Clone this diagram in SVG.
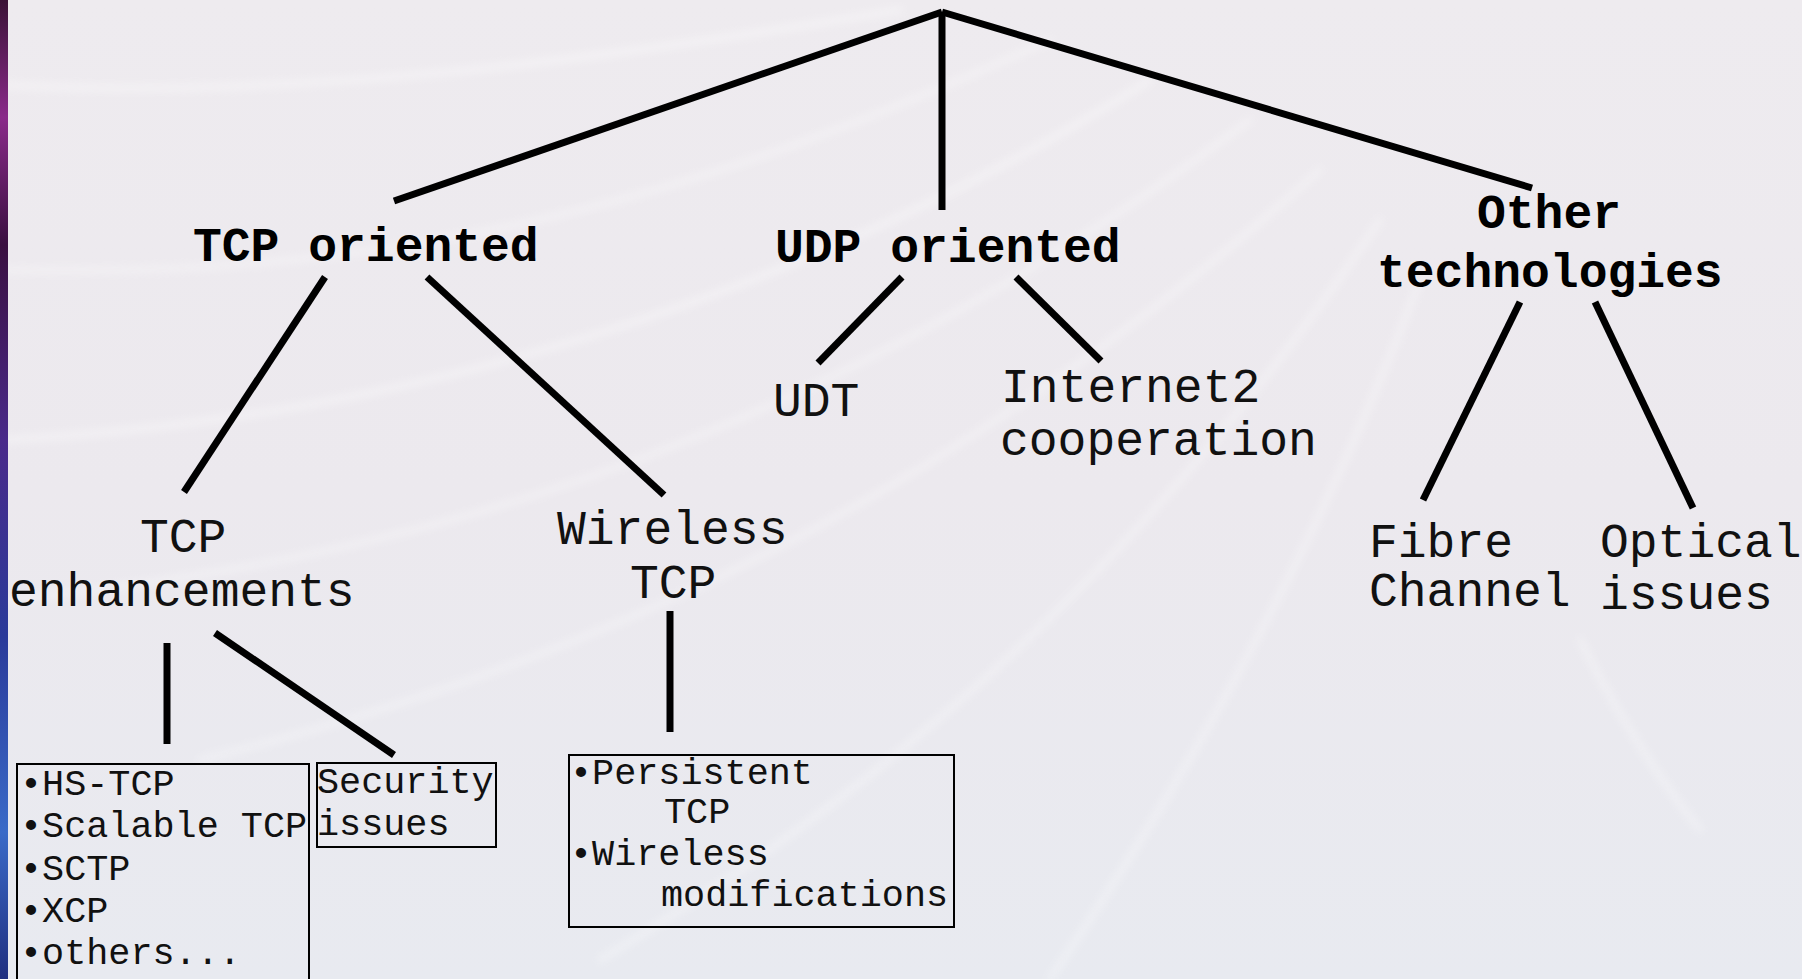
<svg xmlns="http://www.w3.org/2000/svg" width="1802" height="979" viewBox="0 0 1802 979">
<style>
.bg{fill:url(#bgGrad)}
.edge{fill:url(#edgeGrad)}
.streak{fill:none;stroke:#ffffff;stroke-linecap:round;opacity:0.4;filter:url(#soft)}
.conn line{stroke:#000;stroke-width:7;stroke-linecap:butt}
.box{fill:none;stroke:#000;stroke-width:2}
.lbl{font-family:"Liberation Mono","Courier New",monospace;font-size:48px;fill:#111}
.bold{font-family:"Liberation Mono","Courier New",monospace;font-size:48px;font-weight:bold;fill:#000}
.small{font-family:"Liberation Mono","Courier New",monospace;font-size:36.8px;fill:#111}
</style>
<defs>
<linearGradient id="bgGrad" x1="0" y1="0" x2="0" y2="1">
<stop offset="0" stop-color="#eeebef"/>
<stop offset="0.5" stop-color="#ece9ee"/>
<stop offset="1" stop-color="#e8eaf0"/>
</linearGradient>
<linearGradient id="edgeGrad" x1="0" y1="0" x2="0" y2="1">
<stop offset="0" stop-color="#3a1236"/>
<stop offset="0.12" stop-color="#8a2a8a"/>
<stop offset="0.25" stop-color="#3a1040"/>
<stop offset="0.45" stop-color="#4a2a8a"/>
<stop offset="0.65" stop-color="#2a3a9a"/>
<stop offset="0.85" stop-color="#3a6ac8"/>
<stop offset="1" stop-color="#1f2f80"/>
</linearGradient>
<filter id="soft" x="-10%" y="-10%" width="120%" height="120%">
<feGaussianBlur stdDeviation="4"/>
</filter>
</defs>
<g id="background">
<rect class="bg" x="0" y="0" width="1802" height="979"/>
<path class="streak" stroke-width="6" d="M0,85 C300,100 600,60 900,10"/>
<path class="streak" stroke-width="5" d="M0,270 C400,280 700,200 1050,40"/>
<path class="streak" stroke-width="6" d="M0,440 C400,420 800,300 1150,80"/>
<path class="streak" stroke-width="5" d="M0,600 C450,560 850,420 1250,120"/>
<path class="streak" stroke-width="5" d="M200,760 C600,660 950,500 1320,170"/>
<path class="streak" stroke-width="5" d="M600,960 C900,780 1150,560 1380,220"/>
<path class="streak" stroke-width="5" d="M1050,979 C1200,760 1330,520 1420,280"/>
<path class="streak" stroke-width="5" d="M1580,640 C1620,720 1660,780 1700,830"/>
<rect class="edge" x="0" y="0" width="8" height="979"/>
</g>
<g id="connectors" class="conn">
<line x1="942" y1="12" x2="394" y2="201"/>
<line x1="942" y1="12" x2="942" y2="210"/>
<line x1="942" y1="12" x2="1532" y2="188"/>
<line x1="325" y1="277" x2="184" y2="492"/>
<line x1="427" y1="277" x2="664" y2="495"/>
<line x1="902" y1="277" x2="818" y2="363"/>
<line x1="1016" y1="277" x2="1101" y2="361"/>
<line x1="1520" y1="302" x2="1423" y2="500"/>
<line x1="1595" y1="302" x2="1693" y2="508"/>
<line x1="167" y1="643" x2="167" y2="744"/>
<line x1="215" y1="633" x2="394" y2="755"/>
<line x1="670" y1="611" x2="670" y2="732"/>
</g>
<g id="node-tcp-oriented"><text class="bold" x="193" y="261">TCP oriented</text></g>
<g id="node-udp-oriented"><text class="bold" x="775" y="262">UDP oriented</text></g>
<g id="node-other-technologies">
<text class="bold" x="1477" y="228">Other</text>
<text class="bold" x="1377" y="287">technologies</text>
</g>
<g id="node-tcp-enhancements">
<text class="lbl" x="140" y="552">TCP</text>
<text class="lbl" x="9" y="606">enhancements</text>
</g>
<g id="node-wireless-tcp">
<text class="lbl" x="557" y="544">Wireless</text>
<text class="lbl" x="630" y="598">TCP</text>
</g>
<g id="node-udt"><text class="lbl" x="773" y="416">UDT</text></g>
<g id="node-internet2">
<text class="lbl" x="1001" y="402">Internet2</text>
<text class="lbl" x="1000" y="455">cooperation</text>
</g>
<g id="node-fibre-channel">
<text class="lbl" x="1369" y="557">Fibre</text>
<text class="lbl" x="1369" y="606">Channel</text>
</g>
<g id="node-optical-issues">
<text class="lbl" x="1600" y="557">Optical</text>
<text class="lbl" x="1600" y="609">issues</text>
</g>
<g id="node-tcp-list">
<rect class="box" x="17" y="764" width="292" height="230"/>
<text class="small" x="20" y="795">•HS-TCP</text>
<text class="small" x="20" y="837">•Scalable TCP</text>
<text class="small" x="20" y="880">•SCTP</text>
<text class="small" x="20" y="922">•XCP</text>
<text class="small" x="20" y="964">•others...</text>
</g>
<g id="node-security">
<rect class="box" x="317" y="763" width="179" height="84"/>
<text class="small" x="317" y="793">Security</text>
<text class="small" x="317" y="835">issues</text>
</g>
<g id="node-wireless-list">
<rect class="box" x="569" y="755" width="385" height="172"/>
<text class="small" x="570" y="784">•Persistent</text>
<text class="small" x="664" y="823">TCP</text>
<text class="small" x="570" y="865">•Wireless</text>
<text class="small" x="661" y="906">modifications</text>
</g>
</svg>
